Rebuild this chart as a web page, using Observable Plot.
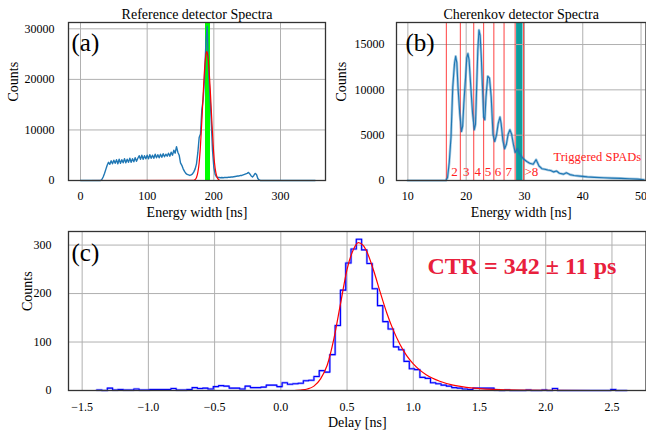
<!DOCTYPE html>
<html><head><meta charset="utf-8">
<script src="https://cdn.jsdelivr.net/npm/d3@7"></script>
<script src="https://cdn.jsdelivr.net/npm/@observablehq/plot@0.6"></script>
<style>
body{margin:0;background:#fff;}
#wrap{position:relative;width:646px;height:434px;overflow:hidden;}
#wrap > div{position:absolute;}
#wrap svg text{font-family:'Liberation Serif','Times New Roman',serif;}
</style></head><body>
<div id="wrap"><div id="pa" style="left:0;top:0"></div><div id="pb" style="left:330px;top:0"></div><div id="pc" style="left:0;top:220px"></div></div>
<script>
// ---------- Panel (a): reference detector ----------
const refXTicks = [0, 100, 200, 300];
const refYTicks = [0, 10000, 20000, 30000];
const refBinStart = 30, refBinStep = 2;
const refCounts = [0,200,700,1400,2200,3000,3600,3200,3900,3300,4000,3400,4100,3300,4200,3400,4100,3500,4300,3500,
  4200,3600,4400,3600,4300,3700,4500,3800,4400,4900,4200,5000,4200,4900,4300,5000,4300,5100,4400,5000,
  4400,5200,4500,5100,4500,5200,4600,5300,4700,5200,4800,5400,4800,5600,5000,6000,5400,6700,5600,5000,
  3500,3000,2300,1800,1400,1200,1100,1000,1100,1300,1700,2300,3300,5500,8500,9200,14000,16000,20000,27000,
  30500,22000,17500,12000,6000,2600,1200,700,600,600,550,600,550,600,600,600,650,650,700,700,
  750,800,850,900,900,1000,1000,1100,1200,1300,1400,1600,1300,900,700,1000,1400,1200,400,100,0];
const refEnds = [0, 352];
const refFitX = [0,170,172,174,176,178,180,182,184,186,188,189.5,191,193,195,197,199,201,203,205,207,209,352];
const refFitY = [0,50,200,600,1600,3500,7000,11800,17000,21800,24800,25500,24700,21600,17000,11800,7000,3500,1600,600,200,0,0];
const refBandStart = [187.5], refBandEnd = [195];

// ---------- Panel (b): Cherenkov detector ----------
const cherXTicks = [10, 20, 30, 40, 50];
const cherYTicks = [0, 5000, 10000, 15000];
const cherX = [10,16.5,16.8,17.1,17.4,17.7,18.0,18.2,18.4,18.6,18.9,19.2,19.4,19.6,19.9,20.1,20.3,20.5,20.8,21.1,
  21.4,21.6,21.8,22.0,22.2,22.4,22.6,22.8,23.0,23.2,23.4,23.7,24.0,24.3,24.6,24.9,25.2,25.5,25.8,26.0,
  26.3,26.6,26.9,27.2,27.5,27.8,28.1,28.4,28.8,29.2,29.8,30.4,30.9,31.5,32.0,32.5,33.0,33.5,34.0,34.5,
  35.0,35.5,36.0,36.7,37.2,37.8,38.5,39.5,40.8,42.0,43.6,45.0,46.5,48.0,49.4,50.5];
const cherCounts = [0,0,300,2000,4800,10300,12900,13700,13000,10300,7400,5400,6000,8500,11400,13500,14000,13300,10300,7400,
  5600,6200,10300,14400,16600,16000,13600,10300,7000,6700,9200,11500,11300,9200,5100,4300,5000,6300,7000,6300,
  4400,3500,4000,5100,5600,5100,4000,3100,3500,2900,2400,2100,1900,1800,2300,1600,1300,1250,1150,1100,
  950,1050,800,700,850,650,550,480,400,350,300,260,230,190,150,80];
const spadEdges = [16.6, 19.0, 21.3, 23.0, 24.75, 26.5, 28.4, 29.85];
const spadBandStart = [28.65], spadBandEnd = [29.75];
const spadLabels = ["2","3","4","5","6","7",">8"];
const spadLabelX = [18.0, 20.0, 22.0, 23.75, 25.45, 27.3, 31.2];

// ---------- Panel (c): delay histogram ----------
const delayXTicks = [-1.5, -1.0, -0.5, 0.0, 0.5, 1.0, 1.5, 2.0, 2.5];
const delayYTicks = [0, 100, 200, 300];
const histStart = -1.39, histWidth = 0.04;
const histCounts = [1,0,5,1,2,1,1,3,1,1,2,2,2,2,4,1,1,2,6,4,
  5,3,8,10,9,5,5,3,9,6,6,7,11,11,8,16,13,14,15,20,
  21,29,41,38,74,134,207,263,292,312,290,262,210,175,142,127,90,84,60,45,
  43,27,25,16,14,11,9,6,5,3,2,5,5,5,5,1,0,1,0,0,
  0,1,0,0,1,0,4,0,0,0,0,0,0,0,0,0,0,2,0,0];
const fitX = [-1.4,0.1,0.15,0.2,0.25,0.3,0.35,0.4,0.45,0.5,0.55,0.585,0.62,0.65,0.7,0.75,0.8,0.85,0.9,0.95,1.0,1.05,1.1,1.2,1.3,1.4,1.5,1.6,1.7,1.8,2.0,2.6];
const fitY = [0,0,1,3,9,24,52,106,178,250,292,305,300,286,248,203,160,124,95,72,55,42,32,19,11,6.5,4,2.3,1.3,0.7,0.2,0];
const ctrText = ["CTR = 342 ± 11 ps"];
const ctrX = [1.82], ctrY = [257];

// ---------- common ----------
const FONT = "'Liberation Serif', 'Times New Roman', serif";
const GRID = "#b0b0b0", FRAME = "#333333", BLUE = "#1f77b4";
const st = () => ({fontFamily: FONT, fontSize: "12px", background: "transparent", color: "#000", overflow: "visible"});
const minusFmt = f => d => f(d).replace("-", "\u2212");
const LBL = 14;

const refData = [{x: refEnds[0], y: 0}]
  .concat(refCounts.map((c, i) => ({x: refBinStart + i * refBinStep, y: c})))
  .concat([{x: refEnds[1], y: 0}]);
const refFit = refFitX.map((x, i) => ({x, y: refFitY[i]}));

const pa = Plot.plot({
  width: 330, height: 220, marginLeft: 68, marginRight: 5, marginTop: 22, marginBottom: 40,
  style: st(),
  x: {domain: [-18, 367.5], ticks: refXTicks, tickSize: 0, tickPadding: 11, label: null},
  y: {domain: [0, 31250], ticks: refYTicks, tickSize: 0, tickPadding: 14, tickFormat: d3.format("d"), label: null},
  marks: [
    Plot.ruleX(refXTicks, {stroke: GRID, strokeWidth: 1}),
    Plot.ruleY(refYTicks, {stroke: GRID, strokeWidth: 1}),
    Plot.rect(refBandStart, {x1: d => d, x2: (d, i) => refBandEnd[i], fill: "#00ff00"}),
    Plot.line(refData, {x: "x", y: "y", stroke: BLUE, strokeWidth: 1.4}),
    Plot.line(refFit, {x: "x", y: "y", stroke: "red", strokeWidth: 1.2, curve: "monotone-x"}),
    Plot.frame({stroke: FRAME, strokeWidth: 1.3}),
    Plot.text(["Reference detector Spectra"], {text: d => d, frameAnchor: "top", lineAnchor: "middle", dy: -8, fontSize: LBL}),
    Plot.text(["Energy width [ns]"], {text: d => d, frameAnchor: "bottom", lineAnchor: "middle", dy: 32, fontSize: LBL}),
    Plot.text(["Counts"], {text: d => d, frameAnchor: "left", lineAnchor: "middle", dx: -55, rotate: -90, fontSize: LBL}),
    Plot.text(["(a)"], {text: d => d, frameAnchor: "top-left", textAnchor: "start", lineAnchor: "middle", dx: 3, dy: 20, fontSize: 25})
  ]
});
document.getElementById("pa").appendChild(pa);

const cherData = cherX.map((x, i) => ({x, y: cherCounts[i]}));
const pb = Plot.plot({
  width: 316, height: 220, marginLeft: 66, marginRight: 0.5, marginTop: 22, marginBottom: 40,
  style: st(),
  x: {domain: [8.05, 50.85], ticks: cherXTicks, tickSize: 0, tickPadding: 11, label: null},
  y: {domain: [0, 17430], ticks: cherYTicks, tickSize: 0, tickPadding: 12, tickFormat: d3.format("d"), label: null},
  marks: [
    Plot.rect(spadBandStart, {x1: d => d, x2: (d, i) => spadBandEnd[i], fill: "#0e9e9e"}),
    Plot.ruleX(cherXTicks, {stroke: GRID, strokeWidth: 1}),
    Plot.ruleY(cherYTicks, {stroke: GRID, strokeWidth: 1}),
    Plot.ruleX(spadEdges, {stroke: "#ff2020", strokeWidth: 1, strokeOpacity: 0.85}),
    Plot.line(cherData, {x: "x", y: "y", stroke: BLUE, strokeWidth: 2.6, strokeOpacity: 0.4}),
    Plot.line(cherData, {x: "x", y: "y", stroke: BLUE, strokeWidth: 1.1}),
    Plot.text(spadLabels, {x: (d, i) => spadLabelX[i], text: d => d, frameAnchor: "bottom", lineAnchor: "middle", dy: -9, fill: "#ff2020", fontSize: 13}),
    Plot.text(["Triggered SPADs"], {x: () => 42.5, y: () => 2570, text: d => d, fill: "#ff2020", fontSize: 12.5}),
    Plot.frame({stroke: FRAME, strokeWidth: 1.3}),
    Plot.text(["Cherenkov detector Spectra"], {text: d => d, frameAnchor: "top", lineAnchor: "middle", dy: -8, fontSize: LBL}),
    Plot.text(["Energy width [ns]"], {text: d => d, frameAnchor: "bottom", lineAnchor: "middle", dy: 32, fontSize: LBL}),
    Plot.text(["Counts"], {text: d => d, frameAnchor: "left", lineAnchor: "middle", dx: -55, rotate: -90, fontSize: LBL}),
    Plot.text(["(b)"], {text: d => d, frameAnchor: "top-left", textAnchor: "start", lineAnchor: "middle", dx: 9, dy: 20, fontSize: 25})
  ]
});
document.getElementById("pb").appendChild(pb);

const histData = histCounts.map((c, i) => ({x: histStart + i * histWidth, y: c}));
histData.push({x: histStart + histCounts.length * histWidth, y: histCounts[histCounts.length - 1]});
const fitData = fitX.map((x, i) => ({x, y: fitY[i]}));
const pc = Plot.plot({
  width: 646, height: 214, marginLeft: 68, marginRight: 0.5, marginTop: 11, marginBottom: 44,
  style: st(),
  x: {domain: [-1.603, 2.757], ticks: delayXTicks, tickSize: 0, tickPadding: 12, tickFormat: minusFmt(d3.format(".1f")), label: null},
  y: {domain: [0, 328], ticks: delayYTicks, tickSize: 0, tickPadding: 17, tickFormat: d3.format("d"), label: null},
  marks: [
    Plot.ruleX(delayXTicks, {stroke: GRID, strokeWidth: 1}),
    Plot.ruleY(delayYTicks, {stroke: GRID, strokeWidth: 1}),
    Plot.line(histData, {x: "x", y: "y", curve: "step-after", stroke: "#0000ff", strokeWidth: 2.4, strokeOpacity: 0.3}),
    Plot.line(histData, {x: "x", y: "y", curve: "step-after", stroke: "#0000ff", strokeWidth: 1.1}),
    Plot.line(fitData, {x: "x", y: "y", stroke: "red", strokeWidth: 1.2, curve: "monotone-x"}),
    Plot.text(ctrText, {x: (d, i) => ctrX[i], y: (d, i) => ctrY[i], text: d => d, fill: "#e8203c", fontSize: 24, fontWeight: "bold"}),
    Plot.frame({stroke: FRAME, strokeWidth: 1.3}),
    Plot.text(["Delay [ns]"], {text: d => d, frameAnchor: "bottom", lineAnchor: "middle", dy: 32, fontSize: LBL}),
    Plot.text(["Counts"], {text: d => d, frameAnchor: "left", lineAnchor: "middle", dx: -41, rotate: -90, fontSize: LBL}),
    Plot.text(["(c)"], {text: d => d, frameAnchor: "top-left", textAnchor: "start", lineAnchor: "middle", dx: 3, dy: 21, fontSize: 25})
  ]
});
document.getElementById("pc").appendChild(pc);
</script>
</body></html>
